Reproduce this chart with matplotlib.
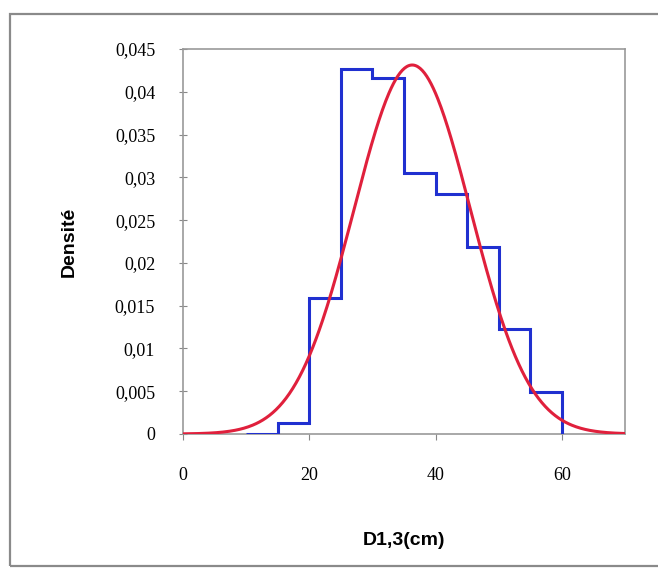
import numpy as np
import matplotlib.pyplot as plt
from matplotlib.patches import Rectangle

# classes de diamètre (cm) et densités observées
bornes = [10, 15, 20, 25, 30, 35, 40, 45, 50, 55, 60]
densites = [0.0, 0.00125, 0.0159, 0.0427, 0.0416, 0.0305, 0.0281, 0.0218, 0.0123, 0.0049]

# loi normale ajustée (paramètres)
moyenne = 36.3
ecart_type = 9.25

x_ticks = [0, 20, 40, 60]
y_ticks = [0, 0.005, 0.01, 0.015, 0.02, 0.025, 0.03, 0.035, 0.04, 0.045]
y_labels = ['0', '0,005', '0,01', '0,015', '0,02', '0,025', '0,03', '0,035', '0,04', '0,045']

fig = plt.figure(figsize=(6.58, 5.74), dpi=100)
fig.patches.append(Rectangle((10 / 658, 8 / 574), 1.0, 1 - 22 / 574, transform=fig.transFigure,
                             fill=False, edgecolor='#8a8a8a', linewidth=1.6))

ax = fig.add_axes([183 / 658, 140 / 574, 442 / 658, 385 / 574])

ax.stairs(densites, bornes, color='#2030d0', linewidth=2.2, baseline=0, zorder=3)

xs = np.linspace(0, 70, 400)
pdf = np.exp(-0.5 * ((xs - moyenne) / ecart_type) ** 2) / (ecart_type * np.sqrt(2 * np.pi))
ax.plot(xs, pdf, color='#e0203c', linewidth=2.2, zorder=4)

ax.set_xlim(0, 70)
ax.set_ylim(0, 0.045)
ax.set_xticks(x_ticks)
ax.set_xticklabels([str(v) for v in x_ticks], family='Liberation Serif', fontsize=13)
ax.set_yticks(y_ticks)
ax.set_yticklabels(y_labels, family='Liberation Serif', fontsize=13)
ax.tick_params(axis='y', direction='inout', length=6, pad=17, color='#888888')
ax.tick_params(axis='x', direction='out', length=4, pad=20, color='#888888')
for s in ax.spines.values():
    s.set_color('#999999')
    s.set_linewidth(1.2)

ax.set_xlabel('D1,3(cm)', family='Liberation Sans', fontweight='bold', fontsize=14, labelpad=34)
ax.set_ylabel('Densité', family='Liberation Sans', fontweight='bold', fontsize=14, labelpad=27)

fig.savefig('out.png', dpi=100)
